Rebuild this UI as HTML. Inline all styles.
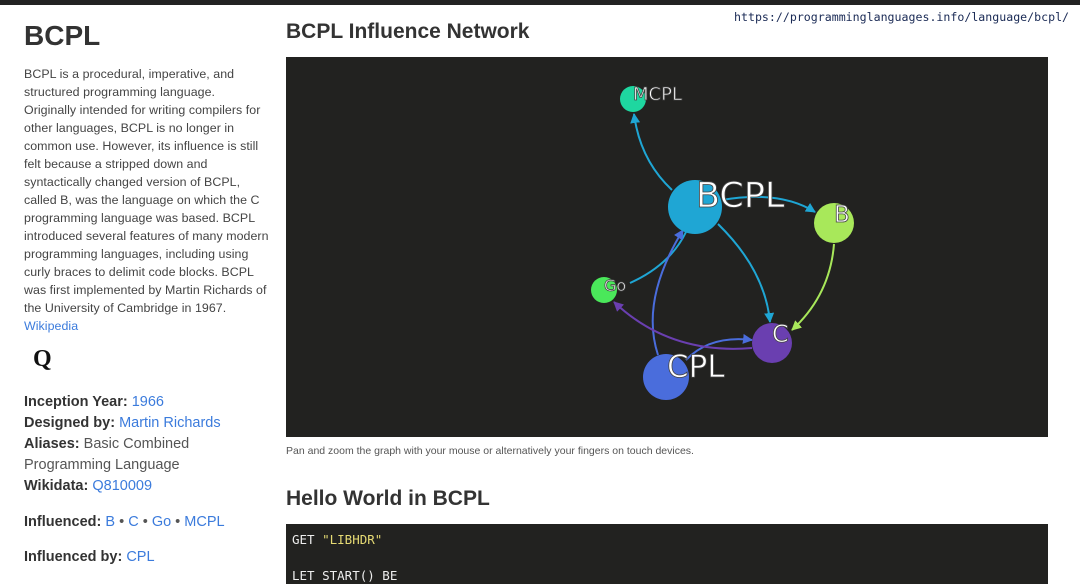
<!DOCTYPE html>
<html><head><style>
body{margin:0;width:1080px;height:573px;overflow:hidden;background:#fff;font-family:"Liberation Sans",sans-serif;color:#333;position:relative}
.top{position:absolute;left:0;top:0;width:1080px;height:5px;background:#222}
.url{position:absolute;left:734px;top:10px;font-family:"DejaVu Sans Mono","Liberation Mono",monospace;font-size:11.6px;color:#1a2a55}
h1{position:absolute;left:24px;top:20px;margin:0;font-size:28px;font-weight:bold;color:#333}
.desc{position:absolute;left:24px;top:65px;font-size:12.4px;line-height:18px;color:#444;white-space:nowrap;letter-spacing:0.05px}
a{color:#3b7bdc;text-decoration:none}
.q{position:absolute;left:33px;top:346px;font-family:"Liberation Serif",serif;font-weight:bold;font-size:24px;color:#111}
.info{position:absolute;left:24px;top:392px;width:250px;font-size:14.5px;line-height:21px;color:#555}
.info b{color:#333}
h2{position:absolute;margin:0;font-size:21px;font-weight:bold;color:#333;left:286px}
.cap{position:absolute;left:286px;top:445px;font-size:10.5px;color:#555}
.graph{position:absolute;left:286px;top:57px;width:762px;height:380px;background:#222220}
.code{position:absolute;left:286px;top:524px;width:762px;height:60px;background:#222220;font-family:"DejaVu Sans Mono","Liberation Mono",monospace;font-size:12.5px;color:#eee}
</style></head><body>
<div class="top"></div>
<div class="url">https://programminglanguages.info/language/bcpl/</div>
<h1>BCPL</h1>
<div class="desc">BCPL is a procedural, imperative, and<br>structured programming language.<br>Originally intended for writing compilers for<br>other languages, BCPL is no longer in<br>common use. However, its influence is still<br>felt because a stripped down and<br>syntactically changed version of BCPL,<br>called B, was the language on which the C<br>programming language was based. BCPL<br>introduced several features of many modern<br>programming languages, including using<br>curly braces to delimit code blocks. BCPL<br>was first implemented by Martin Richards of<br>the University of Cambridge in 1967.<br><a>Wikipedia</a></div>
<div class="q">Q</div>
<div class="info"><b>Inception Year:</b> <a>1966</a><br><b>Designed by:</b> <a>Martin Richards</a><br><b>Aliases:</b> Basic Combined Programming Language<br><b>Wikidata:</b> <a>Q810009</a><div style="height:15px"></div><b>Influenced:</b> <a>B</a> • <a>C</a> • <a>Go</a> • <a>MCPL</a><div style="height:14px"></div><b>Influenced by:</b> <a>CPL</a></div>
<h2 style="top:20px">BCPL Influence Network</h2>
<div class="graph">
<svg width="762" height="380" viewBox="286 57 762 380">
<defs>
<marker id="m1" viewBox="0 0 10 10" refX="9" refY="5" markerWidth="5" markerHeight="5" orient="auto"><path d="M0 0L10 5L0 10z" fill="#1fa6d4"/></marker>
<marker id="m2" viewBox="0 0 10 10" refX="9" refY="5" markerWidth="5" markerHeight="5" orient="auto"><path d="M0 0L10 5L0 10z" fill="#a8e85a"/></marker>
<marker id="m3" viewBox="0 0 10 10" refX="9" refY="5" markerWidth="5" markerHeight="5" orient="auto"><path d="M0 0L10 5L0 10z" fill="#4a6ddc"/></marker>
<marker id="m4" viewBox="0 0 10 10" refX="9" refY="5" markerWidth="5" markerHeight="5" orient="auto"><path d="M0 0L10 5L0 10z" fill="#6a3fb0"/></marker>
</defs>
<g fill="none" stroke-width="2">
<path d="M672 190 Q640 160 634 114" stroke="#1fa6d4" marker-end="url(#m1)"/>
<path d="M722 200 Q780 190 815 212" stroke="#1fa6d4" marker-end="url(#m1)"/>
<path d="M718 224 Q765 270 770 322" stroke="#1fa6d4" marker-end="url(#m1)"/>
<path d="M630 283 Q670 265 686 232" stroke="#1fa6d4"/>
<path d="M834 244 Q830 295 792 330" stroke="#a8e85a" marker-end="url(#m2)"/>
<path d="M658 355 Q640 300 683 230" stroke="#4a6ddc" marker-end="url(#m3)"/>
<path d="M686 360 Q710 335 752 340" stroke="#4a6ddc" marker-end="url(#m3)"/>
<path d="M752 348 Q670 355 614 302" stroke="#6a3fb0" marker-end="url(#m4)"/>
</g>
<circle cx="633" cy="99" r="13" fill="#1ed7a0"/>
<circle cx="695" cy="207" r="27" fill="#1fa6d4"/>
<circle cx="834" cy="223" r="20" fill="#a8e85a"/>
<circle cx="604" cy="290" r="13" fill="#4ae85a"/>
<circle cx="772" cy="343" r="20" fill="#6a3fb0"/>
<circle cx="666" cy="377" r="23" fill="#4a6ddc"/>
<g fill="#fff" stroke="#444" stroke-width="0.8" font-family="'DejaVu Sans',sans-serif">
<text x="633" y="100" font-size="18">MCPL</text>
<text x="696" y="207" font-size="35">BCPL</text>
<text x="834" y="222" font-size="23">B</text>
<text x="604" y="291" font-size="16">Go</text>
<text x="772" y="342" font-size="24">C</text>
<text x="667" y="377" font-size="31">CPL</text>
</g>
</svg>
</div>
<div class="cap">Pan and zoom the graph with your mouse or alternatively your fingers on touch devices.</div>
<h2 style="top:487px">Hello World in BCPL</h2>
<div class="code"><div style="position:absolute;left:6px;top:8px">GET <span style="color:#e6db74">"LIBHDR"</span></div><div style="position:absolute;left:6px;top:44px">LET START() BE</div></div>
</body></html>
